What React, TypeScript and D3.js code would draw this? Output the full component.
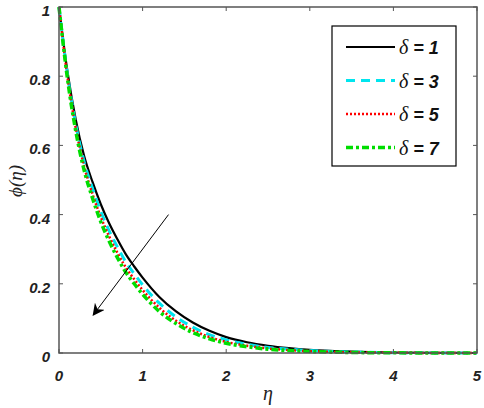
import React, { useEffect, useRef } from 'react';
import * as d3 from 'd3';

// eta grid and concentration profiles
const eta = [0, 0.1, 0.2, 0.3, 0.4, 0.5, 0.6, 0.7, 0.8, 0.9, 1.0, 1.2, 1.4, 1.6, 1.8, 2.0, 2.25, 2.5, 2.75, 3.0, 3.5, 4.0, 4.5, 5.0];
const phiDelta1 = [1, 0.815, 0.675, 0.57, 0.495, 0.43, 0.375, 0.328, 0.285, 0.25, 0.218, 0.162, 0.12, 0.088, 0.064, 0.046, 0.031, 0.021, 0.014, 0.009, 0.004, 0.0015, 0.0005, 0];
const phiDelta3 = [1, 0.807, 0.661, 0.553, 0.476, 0.409, 0.353, 0.306, 0.263, 0.229, 0.197, 0.144, 0.104, 0.075, 0.053, 0.038, 0.025, 0.016, 0.011, 0.007, 0.003, 0.001, 0.0003, 0];
const phiDelta5 = [1, 0.8, 0.651, 0.54, 0.46, 0.393, 0.337, 0.289, 0.247, 0.213, 0.182, 0.131, 0.093, 0.066, 0.046, 0.032, 0.021, 0.013, 0.0085, 0.0052, 0.002, 0.0007, 0.0002, 0];
const phiDelta7 = [1, 0.795, 0.642, 0.529, 0.448, 0.379, 0.323, 0.275, 0.233, 0.2, 0.17, 0.12, 0.085, 0.059, 0.041, 0.028, 0.018, 0.011, 0.007, 0.0042, 0.0015, 0.0005, 0.0001, 0];

const deltaLabels = ['1', '3', '5', '7'];
const xTicks = [0, 1, 2, 3, 4, 5];
const yTicks = [0, 0.2, 0.4, 0.6, 0.8, 1];
const yTickLabels = ['0', '0.2', '0.4', '0.6', '0.8', '1'];

// arrow (data coords): start -> tip
const arrowFrom = [1.31, 0.4];
const arrowTo = [0.41, 0.11];

const styles = [
  { color: '#000000', width: 2.2, dash: null },
  { color: '#00e5ee', width: 3, dash: '9,6' },
  { color: '#ff0000', width: 2.5, dash: '2,2' },
  { color: '#00dd00', width: 3.5, dash: '7,3,3,3' },
];

const App = () => {
  const svgRef = useRef<SVGSVGElement>(null);

  useEffect(() => {
    const svg = d3.select(svgRef.current);
    svg.selectAll('*').remove();

    const width = 484;
    const height = 408;
    const left = 59, right = 477, top = 7, bottom = 353;

    const x = d3.scaleLinear().domain([0, 5]).range([left, right]);
    const y = d3.scaleLinear().domain([0, 1]).range([bottom, top]);

    svg.attr('width', width).attr('height', height);

    svg.append('defs').append('marker')
      .attr('id', 'arrowhead')
      .attr('viewBox', '0 0 10 10')
      .attr('refX', 9).attr('refY', 5)
      .attr('markerWidth', 12).attr('markerHeight', 12)
      .attr('markerUnits', 'userSpaceOnUse')
      .attr('orient', 'auto')
      .append('path')
      .attr('d', 'M0,0 L10,5 L0,10 L3,5 z')
      .attr('fill', '#000');

    const series = [phiDelta1, phiDelta3, phiDelta5, phiDelta7];
    const line = d3.line<number>()
      .x((_, i) => x(eta[i]))
      .y(d => y(d))
      .curve(d3.curveMonotoneX);

    series.forEach((s, k) => {
      const st = styles[k];
      svg.append('path')
        .attr('d', line(s))
        .attr('fill', 'none')
        .attr('stroke', st.color)
        .attr('stroke-width', st.width)
        .attr('stroke-dasharray', st.dash);
    });

    // axes box
    const axisColor = '#555';
    svg.append('rect')
      .attr('x', left).attr('y', top)
      .attr('width', right - left).attr('height', bottom - top)
      .attr('fill', 'none')
      .attr('stroke', axisColor)
      .attr('stroke-width', 1.5);

    const tl = 4;
    xTicks.forEach(t => {
      svg.append('line').attr('x1', x(t)).attr('x2', x(t)).attr('y1', bottom).attr('y2', bottom - tl).attr('stroke', axisColor);
      svg.append('line').attr('x1', x(t)).attr('x2', x(t)).attr('y1', top).attr('y2', top + tl).attr('stroke', axisColor);
      svg.append('text')
        .attr('x', x(t)).attr('y', 381)
        .attr('text-anchor', 'middle')
        .attr('font-family', 'Liberation Sans, Arial, sans-serif')
        .attr('font-size', 15).attr('font-weight', 'bold').attr('font-style', 'italic')
        .attr('fill', '#222')
        .text(t);
    });
    yTicks.forEach((t, i) => {
      svg.append('line').attr('x1', left).attr('x2', left + tl).attr('y1', y(t)).attr('y2', y(t)).attr('stroke', axisColor);
      svg.append('line').attr('x1', right).attr('x2', right - tl).attr('y1', y(t)).attr('y2', y(t)).attr('stroke', axisColor);
      svg.append('text')
        .attr('x', 50).attr('y', y(t) + 9)
        .attr('text-anchor', 'end')
        .attr('font-family', 'Liberation Sans, Arial, sans-serif')
        .attr('font-size', 15).attr('font-weight', 'bold').attr('font-style', 'italic')
        .attr('fill', '#222')
        .text(yTickLabels[i]);
    });

    // axis labels
    svg.append('text')
      .attr('x', x(2.5)).attr('y', 400)
      .attr('text-anchor', 'middle')
      .attr('font-family', 'Liberation Serif, Times New Roman, serif')
      .attr('font-size', 20).attr('font-style', 'italic')
      .attr('fill', '#222')
      .text('η');
    svg.append('text')
      .attr('transform', 'translate(22,181) rotate(-90)')
      .attr('text-anchor', 'middle')
      .attr('font-family', 'Liberation Serif, Times New Roman, serif')
      .attr('font-size', 19).attr('font-style', 'italic')
      .attr('fill', '#222')
      .text('ϕ(η)');

    // arrow
    svg.append('line')
      .attr('x1', x(arrowFrom[0])).attr('y1', y(arrowFrom[1]))
      .attr('x2', x(arrowTo[0])).attr('y2', y(arrowTo[1]))
      .attr('stroke', '#000').attr('stroke-width', 1)
      .attr('marker-end', 'url(#arrowhead)');

    // legend
    const lg = svg.append('g');
    lg.append('rect')
      .attr('x', 332).attr('y', 26)
      .attr('width', 124).attr('height', 140)
      .attr('fill', '#fff')
      .attr('stroke', '#000').attr('stroke-width', 1.2);
    deltaLabels.forEach((d, k) => {
      const st = styles[k];
      const ry = 47 + k * 33.5;
      lg.append('line')
        .attr('x1', 346).attr('x2', 395)
        .attr('y1', ry).attr('y2', ry)
        .attr('stroke', st.color)
        .attr('stroke-width', st.width)
        .attr('stroke-dasharray', st.dash);
      const t = lg.append('text')
        .attr('x', 399).attr('y', ry + 7)
        .attr('fill', '#111');
      t.append('tspan')
        .attr('font-family', 'Liberation Serif, Times New Roman, serif')
        .attr('font-style', 'italic')
        .attr('font-size', 20)
        .text('δ');
      t.append('tspan')
        .attr('font-family', 'Liberation Sans, Arial, sans-serif')
        .attr('font-style', 'italic').attr('font-weight', 'bold')
        .attr('font-size', 18)
        .text(' = ' + d);
    });
  }, []);

  return (
    <div style={{ position: 'absolute', left: 0, top: 0 }}>
      <svg ref={svgRef} style={{ display: 'block', background: '#fff' }}></svg>
    </div>
  );
};

export default App;
